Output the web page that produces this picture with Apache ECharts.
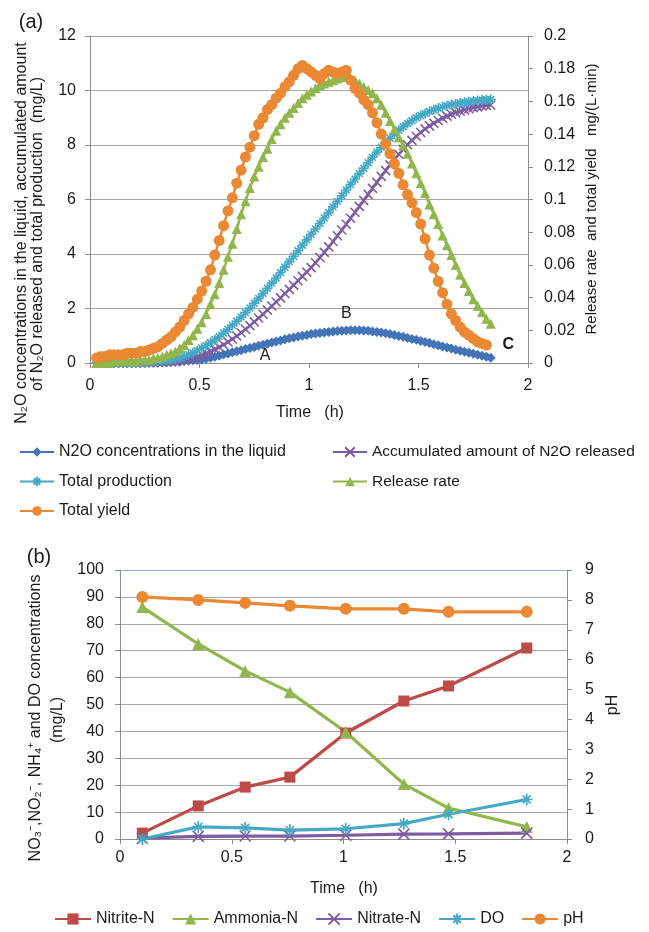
<!DOCTYPE html>
<html><head><meta charset="utf-8">
<script src="https://cdn.jsdelivr.net/npm/echarts@6/dist/echarts.min.js"></script>
<style>html,body{margin:0;padding:0;background:#fff}#c{width:649px;height:932px}</style>
</head><body><div id="c"></div>
<script>
// ---------- Panel (a) data ----------
const timeA = [0.03,0.05,0.07,0.09,0.11,0.13,0.15,0.17,0.19,0.21,0.23,0.25,0.27,0.29,0.31,0.33,0.35,0.37,0.39,0.41,0.43,0.45,0.47,0.49,0.51,0.53,0.55,0.57,0.59,0.61,0.63,0.65,0.67,0.69,0.71,0.73,0.75,0.77,0.79,0.81,0.83,0.85,0.87,0.89,0.91,0.93,0.95,0.97,0.99,1.01,1.03,1.05,1.07,1.09,1.11,1.13,1.15,1.17,1.19,1.21,1.23,1.25,1.27,1.29,1.31,1.33,1.35,1.37,1.39,1.41,1.43,1.45,1.47,1.49,1.51,1.53,1.55,1.57,1.59,1.61,1.63,1.65,1.67,1.69,1.71,1.73,1.75,1.77,1.79,1.81,1.83];
const n2oLiquid = [0.00,0.00,0.00,0.00,0.00,0.00,0.00,0.00,0.01,0.01,0.01,0.01,0.02,0.02,0.02,0.03,0.03,0.04,0.05,0.05,0.07,0.08,0.10,0.11,0.13,0.16,0.19,0.23,0.27,0.31,0.35,0.39,0.43,0.47,0.51,0.55,0.59,0.63,0.67,0.71,0.75,0.79,0.83,0.87,0.91,0.94,0.97,1.00,1.03,1.06,1.08,1.10,1.12,1.14,1.16,1.17,1.18,1.19,1.20,1.20,1.20,1.19,1.18,1.16,1.14,1.12,1.09,1.06,1.03,0.99,0.96,0.92,0.88,0.85,0.81,0.77,0.73,0.69,0.65,0.61,0.57,0.53,0.49,0.45,0.41,0.38,0.34,0.30,0.27,0.23,0.19];
const accumulated = [0.00,0.00,0.00,0.00,0.00,0.00,0.00,0.00,0.00,0.00,0.01,0.01,0.01,0.02,0.02,0.03,0.04,0.05,0.07,0.09,0.12,0.15,0.19,0.24,0.29,0.35,0.42,0.50,0.58,0.67,0.77,0.88,0.99,1.11,1.24,1.37,1.51,1.65,1.79,1.94,2.09,2.24,2.39,2.55,2.70,2.86,3.02,3.18,3.34,3.50,3.68,3.87,4.06,4.26,4.46,4.67,4.88,5.09,5.31,5.53,5.75,5.97,6.19,6.41,6.63,6.85,7.06,7.27,7.47,7.66,7.84,8.01,8.17,8.32,8.46,8.59,8.70,8.80,8.90,8.98,9.06,9.13,9.19,9.24,9.29,9.33,9.37,9.40,9.43,9.45,9.47];
const totalProduction = [0.00,0.00,0.00,0.00,0.00,0.01,0.01,0.01,0.01,0.02,0.02,0.03,0.04,0.05,0.06,0.08,0.10,0.12,0.16,0.20,0.25,0.31,0.38,0.46,0.55,0.64,0.74,0.85,0.97,1.10,1.24,1.38,1.53,1.69,1.85,2.02,2.19,2.37,2.55,2.74,2.93,3.12,3.32,3.52,3.72,3.92,4.12,4.32,4.52,4.72,4.92,5.12,5.32,5.52,5.73,5.93,6.14,6.35,6.55,6.75,6.95,7.15,7.35,7.55,7.74,7.92,8.09,8.25,8.40,8.54,8.67,8.79,8.90,9.00,9.08,9.16,9.23,9.29,9.35,9.40,9.44,9.48,9.51,9.54,9.57,9.59,9.61,9.63,9.65,9.66,9.67];
const releaseRate = [0.000,0.000,0.000,0.000,0.001,0.001,0.001,0.001,0.001,0.001,0.002,0.002,0.002,0.003,0.003,0.004,0.005,0.006,0.007,0.009,0.011,0.014,0.017,0.021,0.025,0.030,0.036,0.042,0.049,0.057,0.065,0.073,0.082,0.091,0.099,0.107,0.114,0.120,0.126,0.131,0.137,0.142,0.146,0.150,0.153,0.156,0.159,0.162,0.164,0.166,0.168,0.170,0.171,0.172,0.173,0.174,0.175,0.175,0.174,0.173,0.171,0.169,0.167,0.165,0.162,0.158,0.153,0.148,0.143,0.138,0.133,0.128,0.122,0.116,0.110,0.104,0.097,0.091,0.085,0.078,0.072,0.066,0.060,0.054,0.049,0.044,0.039,0.035,0.031,0.027,0.024];
const totalYield = [0.003,0.004,0.004,0.005,0.005,0.005,0.005,0.006,0.006,0.006,0.007,0.007,0.008,0.009,0.010,0.012,0.014,0.016,0.019,0.022,0.026,0.030,0.034,0.039,0.044,0.050,0.057,0.066,0.075,0.084,0.093,0.101,0.110,0.118,0.126,0.132,0.139,0.146,0.150,0.155,0.158,0.162,0.165,0.169,0.172,0.176,0.180,0.182,0.180,0.178,0.176,0.174,0.177,0.179,0.178,0.177,0.178,0.179,0.173,0.168,0.165,0.161,0.158,0.153,0.147,0.140,0.134,0.128,0.122,0.116,0.109,0.103,0.098,0.092,0.085,0.076,0.066,0.058,0.050,0.043,0.036,0.030,0.026,0.022,0.019,0.017,0.015,0.013,0.012,0.011,null];
const ticksLeftA = [0, 12, 2];
const ticksRightA = [0, 0.2, 0.02];
const ticksTime = [0, 2, 0.5];

// ---------- Panel (b) data ----------
const timeB = [0.10,0.35,0.56,0.76,1.01,1.27,1.47,1.82];
const nitriteN = [2.2,12.3,19.3,23.0,39.4,51.3,56.9,71.0];
const ammoniaN = [86.2,72.5,62.5,54.6,39.8,20.4,11.5,4.5];
const nitrateN = [0.3,1.0,1.1,1.1,1.4,1.8,1.9,2.2];
const doConc = [0.0,4.5,4.1,3.3,3.8,5.7,9.2,14.7];
const pHvals = [8.1,8.0,7.9,7.8,7.7,7.7,7.6,7.6];
const ticksLeftB = [0, 100, 10];
const ticksRightB = [0, 9, 1];

// ---------- styling ----------
const FONT = '"Liberation Sans", Arial, sans-serif';
const TXT = '#1a1a1a';
const GRID = '#a6a6a6';
const AXIS = '#8c8c8c';
const C = {blue:'#4374B8', purple:'#7D5CA4', cyan:'#45A9C6', green:'#90B64C', orange:'#EA8833', red:'#BE4B48'};
const X_SYM = 'path://M0,0L10,10M10,0L0,10';
const AST_SYM = 'path://M5,0L5,10M0,5L10,5M1.6,1.6L8.4,8.4M8.4,1.6L1.6,8.4';

function pairs(xs, ys){ return xs.map((x,i)=>[x, ys[i]]); }
function line(name, xs, ys, color, symbol, size, xi, yi, lw, extra){
  const stroke = symbol.indexOf('path://')===0;
  return Object.assign({
    name, type:'line', xAxisIndex:xi, yAxisIndex:yi, data:pairs(xs,ys),
    symbol, symbolSize:size, showAllSymbol:true, connectNulls:false,
    lineStyle:{color, width:lw},
    itemStyle:{color, borderColor:color, borderWidth: stroke?1.6:0},
    emphasis:{disabled:true}
  }, extra||{});
}
function valAxis(gi, t, pos, opts){
  return Object.assign({
    type:'value', gridIndex:gi, position:pos, min:t[0], max:t[1], interval:t[2],
    axisLine:{show:true, onZero:false, lineStyle:{color:AXIS, width:1}},
    axisTick:{show:true, inside:false, length:5, lineStyle:{color:AXIS}},
    axisLabel:{color:TXT, fontSize:16, fontFamily:FONT},
    splitLine:{show:false}
  }, opts||{});
}

const chart = echarts.init(document.getElementById('c'), null, {renderer:'canvas'});
const option = {
  animation:false,
  backgroundColor:'#ffffff',
  textStyle:{fontFamily:FONT},
  grid:[
    {left:90, top:36, width:438, height:327},
    {left:120, top:570, width:447, height:269}
  ],
  xAxis:[
    valAxis(0, ticksTime, 'bottom', {axisLabel:{color:TXT, fontSize:16, fontFamily:FONT, margin:15}}),
    valAxis(1, ticksTime, 'bottom', {axisLabel:{color:TXT, fontSize:16, fontFamily:FONT, margin:11}}),
    valAxis(1, ticksTime, 'top', {z:5, axisLine:{show:true, onZero:false, lineStyle:{color:'#8EB4E3', width:1.2}}, axisTick:{show:false}, axisLabel:{show:false}})
  ],
  yAxis:[
    valAxis(0, ticksLeftA, 'left', {axisLabel:{color:TXT, fontSize:16, fontFamily:FONT, margin:14}, splitLine:{show:true, lineStyle:{color:GRID, width:1}}}),
    valAxis(0, ticksRightA, 'right', {axisLabel:{color:TXT, fontSize:16, fontFamily:FONT, margin:16}}),
    valAxis(1, ticksLeftB, 'left', {axisLabel:{color:TXT, fontSize:16, fontFamily:FONT, margin:16}, splitLine:{show:true, lineStyle:{color:GRID, width:1}}}),
    valAxis(1, ticksRightB, 'right', {axisLabel:{color:TXT, fontSize:16, fontFamily:FONT, margin:18}})
  ],
  legend:[
    {left:19, top:444, padding:0, orient:'vertical', itemGap:13.5, itemWidth:34, itemHeight:12,
     textStyle:{color:TXT, fontSize:16, fontFamily:FONT},
     data:['N2O concentrations in the liquid','Total production','Total yield']},
    {left:332, top:444, padding:0, orient:'vertical', itemGap:13.5, itemWidth:34, itemHeight:12,
     textStyle:{color:TXT, fontSize:15.5, fontFamily:FONT},
     data:['Accumulated amount of N2O released','Release rate']},
    {left:54, top:911, padding:0, orient:'horizontal', itemGap:17, itemWidth:36, itemHeight:14,
     textStyle:{color:TXT, fontSize:16, fontFamily:FONT},
     data:['Nitrite-N','Ammonia-N','Nitrate-N','DO','pH']}
  ],
  series:[
    line('N2O concentrations in the liquid', timeA, n2oLiquid, C.blue, 'diamond', 10, 0, 0, 2.5, {
      markPoint:{symbol:'circle', symbolSize:18, silent:true,
        itemStyle:{color:'rgba(0,0,0,0)'},
        label:{show:true, position:'inside', color:TXT, fontSize:16, fontFamily:FONT},
        data:[
          {coord:[0.80,0.29], label:{formatter:'A'}},
          {coord:[1.17,1.83], label:{formatter:'B'}},
          {coord:[1.91,0.66], label:{formatter:'C', fontWeight:'bold'}}
        ]}
    }),
    line('Accumulated amount of N2O released', timeA, accumulated, C.purple, X_SYM, 9, 0, 0, 2.5),
    line('Total production', timeA, totalProduction, C.cyan, AST_SYM, 10, 0, 0, 2.5),
    line('Release rate', timeA, releaseRate, C.green, 'triangle', 10, 0, 1, 2.5),
    line('Total yield', timeA, totalYield, C.orange, 'circle', 11, 0, 1, 2.5),

    line('Nitrite-N', timeB, nitriteN, C.red, 'rect', 11, 1, 2, 3.2),
    line('Ammonia-N', timeB, ammoniaN, C.green, 'triangle', 12, 1, 2, 3.2),
    line('Nitrate-N', timeB, nitrateN, C.purple, X_SYM, 11, 1, 2, 3.2),
    line('DO', timeB, doConc, C.cyan, AST_SYM, 12, 1, 2, 3.2),
    line('pH', timeB, pHvals, C.orange, 'circle', 12, 1, 3, 3.2)
  ],
  graphic:[
    {type:'text', x:31, y:22, style:{text:'(a)', fontSize:20, fontFamily:FONT, fill:TXT, align:'center', verticalAlign:'middle'}},
    {type:'text', x:39, y:557, style:{text:'(b)', fontSize:20, fontFamily:FONT, fill:TXT, align:'center', verticalAlign:'middle'}},
    {type:'text', x:22, y:233, rotation:Math.PI/2, style:{text:'N\u2082O concentrations in the liquid, accumulated amount', fontSize:16, fontFamily:FONT, fill:TXT, align:'center', verticalAlign:'middle'}},
    {type:'text', x:38, y:234, rotation:Math.PI/2, style:{text:'of N\u2082O released and total production  (mg/L)', fontSize:16, fontFamily:FONT, fill:TXT, align:'center', verticalAlign:'middle'}},
    {type:'text', x:592, y:199, rotation:Math.PI/2, style:{text:'Release rate  and total yield   mg/(L\u00b7min)', fontSize:15, fontFamily:FONT, fill:TXT, align:'center', verticalAlign:'middle'}},
    {type:'text', x:310, y:413, style:{text:'Time   (h)', fontSize:16, fontFamily:FONT, fill:TXT, align:'center', verticalAlign:'middle'}},
    {type:'text', x:36, y:718, rotation:Math.PI/2, style:{text:'NO\u2083\u207b,NO\u2082\u207b, NH\u2084\u207a and DO concentrations', fontSize:16, fontFamily:FONT, fill:TXT, align:'center', verticalAlign:'middle'}},
    {type:'text', x:58, y:720, rotation:Math.PI/2, style:{text:'(mg/L)', fontSize:16, fontFamily:FONT, fill:TXT, align:'center', verticalAlign:'middle'}},
    {type:'text', x:613, y:705, rotation:Math.PI/2, style:{text:'pH', fontSize:16, fontFamily:FONT, fill:TXT, align:'center', verticalAlign:'middle'}},
    {type:'text', x:344, y:889, style:{text:'Time   (h)', fontSize:16, fontFamily:FONT, fill:TXT, align:'center', verticalAlign:'middle'}}
  ]
};
chart.setOption(option);
</script>
</body></html>
